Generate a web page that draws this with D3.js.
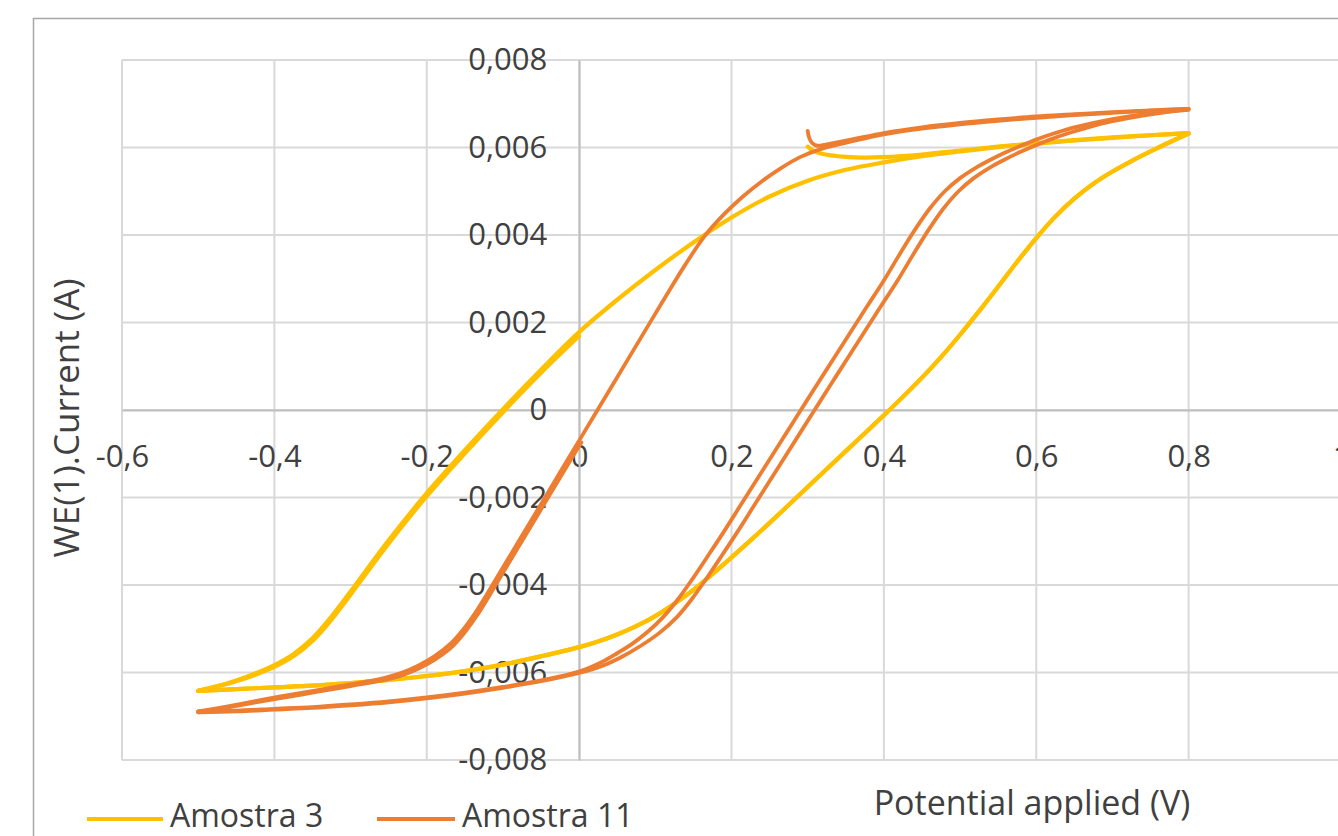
<!DOCTYPE html>
<html><head><meta charset="utf-8">
<script src="https://cdn.jsdelivr.net/npm/d3@7"></script>
<style>html,body{margin:0;padding:0;background:#fff;overflow:hidden}</style>
</head><body><svg id="c" width="1338" height="836"></svg>
<script>
const seriesNames = ["Amostra 3", "Amostra 11"];
const seriesColors = ["#FFC000", "#ED7D31"];
const xTicks = [-0.6, -0.4, -0.2, 0, 0.2, 0.4, 0.6, 0.8, 1.0];
const xTickLabels = ["-0,6", "-0,4", "-0,2", "0", "0,2", "0,4", "0,6", "0,8", "1"];
const yTicks = [-0.008, -0.006, -0.004, -0.002, 0, 0.002, 0.004, 0.006, 0.008];
const yTickLabels = ["-0,008", "-0,006", "-0,004", "-0,002", "0", "0,002", "0,004", "0,006", "0,008"];
const xTitle = "Potential applied (V)";
const yTitle = "WE(1).Current (A)";

// Amostra 3 branches [V, A]
const a3Start = [[0.300,0.00602],[0.308,0.00592],[0.320,0.00585],[0.340,0.00580],[0.370,0.00577],[0.400,0.00578],[0.450,0.00584],[0.500,0.00593],[0.550,0.00602],[0.600,0.00610],[0.650,0.00617],[0.700,0.00623],[0.750,0.00628],[0.800,0.00633]];
const a3Down = [[0.800,0.00632],[0.775,0.00612],[0.750,0.00591],[0.725,0.00569],[0.700,0.00545],[0.675,0.00517],[0.650,0.00483],[0.625,0.00442],[0.600,0.00393],[0.575,0.00339],[0.550,0.00282],[0.525,0.00226],[0.500,0.00172],[0.475,0.00121],[0.450,0.00074],[0.425,0.00030],[0.400,-0.00012],[0.375,-0.00053],[0.350,-0.00094],[0.325,-0.00135],[0.300,-0.00176],[0.275,-0.00217],[0.250,-0.00258],[0.225,-0.00298],[0.200,-0.00337],[0.175,-0.00375],[0.150,-0.00411],[0.125,-0.00443],[0.100,-0.00471],[0.075,-0.00494],[0.050,-0.00513],[0.025,-0.00529],[0.000,-0.00542],[-0.050,-0.00563],[-0.100,-0.00582],[-0.150,-0.00597],[-0.200,-0.00608],[-0.250,-0.00617],[-0.300,-0.00624],[-0.350,-0.00630],[-0.400,-0.00634],[-0.450,-0.00638],[-0.500,-0.00642]];
const a3Up = [[-0.500,-0.00642],[-0.475,-0.00631],[-0.450,-0.00618],[-0.425,-0.00602],[-0.400,-0.00583],[-0.375,-0.00558],[-0.350,-0.00522],[-0.325,-0.00472],[-0.300,-0.00415],[-0.250,-0.00298],[-0.200,-0.00190],[-0.150,-0.00092],[-0.100,0.00002],[-0.050,0.00092],[0.000,0.00178],[0.050,0.00252],[0.100,0.00320],[0.150,0.00383],[0.200,0.00440],[0.250,0.00488],[0.300,0.00524],[0.350,0.00549],[0.400,0.00566],[0.450,0.00580],[0.500,0.00591],[0.550,0.00601],[0.600,0.00609],[0.650,0.00616],[0.700,0.00622],[0.750,0.00628],[0.800,0.00633]];
const a3Up2 = [[-0.500,-0.00642],[-0.475,-0.00632],[-0.450,-0.00620],[-0.425,-0.00605],[-0.400,-0.00587],[-0.375,-0.00563],[-0.350,-0.00528],[-0.325,-0.00479],[-0.300,-0.00422],[-0.250,-0.00305],[-0.200,-0.00197],[-0.150,-0.00099],[-0.100,-0.00005],[-0.050,0.00085],[-0.020,0.00136],[0.000,0.00169]];

// Amostra 11 branches [V, A]
const a11Start = [[0.300,0.00638],[0.302,0.00622],[0.306,0.00610],[0.313,0.00604],[0.330,0.00609],[0.360,0.00619],[0.400,0.00633],[0.450,0.00646],[0.500,0.00656],[0.550,0.00664],[0.600,0.00671],[0.650,0.00676],[0.700,0.00681],[0.750,0.00685],[0.800,0.00688]];
const a11DownA = [[0.800,0.00686],[0.750,0.00678],[0.700,0.00665],[0.650,0.00646],[0.625,0.00633],[0.600,0.00618],[0.580,0.00604],[0.560,0.00589],[0.540,0.00572],[0.520,0.00553],[0.500,0.00530],[0.480,0.00500],[0.460,0.00460],[0.440,0.00410],[0.420,0.00354],[0.400,0.00296],[0.378,0.00237],[0.357,0.00180],[0.335,0.00120],[0.310,0.00052],[0.290,-0.00003],[0.270,-0.00058],[0.250,-0.00113],[0.230,-0.00168],[0.210,-0.00223],[0.190,-0.00278],[0.170,-0.00331],[0.150,-0.00383],[0.130,-0.00432],[0.110,-0.00474],[0.090,-0.00507],[0.070,-0.00534],[0.050,-0.00556],[0.030,-0.00576],[0.000,-0.00598],[-0.050,-0.00618],[-0.100,-0.00633],[-0.150,-0.00646],[-0.200,-0.00657],[-0.250,-0.00666],[-0.300,-0.00673],[-0.350,-0.00679],[-0.400,-0.00683],[-0.450,-0.00687],[-0.500,-0.00689]];
const a11Up = [[-0.500,-0.00689],[-0.470,-0.00680],[-0.430,-0.00667],[-0.390,-0.00654],[-0.343,-0.00640],[-0.300,-0.00627],[-0.255,-0.00612],[-0.232,-0.00600],[-0.212,-0.00585],[-0.190,-0.00563],[-0.168,-0.00533],[-0.150,-0.00497],[-0.133,-0.00455],[-0.100,-0.00360],[-0.070,-0.00273],[-0.040,-0.00186],[-0.010,-0.00099],[0.020,-0.00012],[0.050,0.00075],[0.080,0.00162],[0.110,0.00249],[0.140,0.00334],[0.165,0.00398],[0.190,0.00447],[0.215,0.00488],[0.240,0.00523],[0.265,0.00553],[0.290,0.00578],[0.320,0.00598],[0.360,0.00615],[0.400,0.00630],[0.450,0.00643],[0.500,0.00653],[0.550,0.00661],[0.600,0.00668],[0.650,0.00674],[0.700,0.00679],[0.750,0.00684],[0.800,0.00688]];
const a11DownB = [[0.800,0.00688],[0.750,0.00676],[0.700,0.00660],[0.668,0.00646],[0.643,0.00633],[0.618,0.00618],[0.598,0.00604],[0.578,0.00589],[0.558,0.00572],[0.538,0.00553],[0.518,0.00530],[0.498,0.00500],[0.478,0.00460],[0.458,0.00410],[0.438,0.00354],[0.418,0.00296],[0.396,0.00237],[0.375,0.00180],[0.353,0.00120],[0.328,0.00052],[0.308,-0.00003],[0.288,-0.00058],[0.268,-0.00113],[0.248,-0.00168],[0.228,-0.00223],[0.208,-0.00278],[0.188,-0.00331],[0.168,-0.00383],[0.148,-0.00432],[0.128,-0.00474],[0.105,-0.00510],[0.080,-0.00540],[0.055,-0.00565],[0.030,-0.00585],[0.000,-0.00601],[-0.050,-0.00620],[-0.100,-0.00635],[-0.150,-0.00648],[-0.200,-0.00659],[-0.250,-0.00668],[-0.300,-0.00675],[-0.350,-0.00681],[-0.400,-0.00685],[-0.450,-0.00689],[-0.500,-0.00691]];
const a11Up2 = [[-0.500,-0.00691],[-0.470,-0.00683],[-0.430,-0.00670],[-0.390,-0.00658],[-0.343,-0.00644],[-0.300,-0.00631],[-0.255,-0.00617],[-0.232,-0.00606],[-0.212,-0.00592],[-0.190,-0.00571],[-0.168,-0.00543],[-0.150,-0.00508],[-0.133,-0.00467],[-0.100,-0.00372],[-0.070,-0.00285],[-0.040,-0.00198],[-0.010,-0.00111],[0.003,-0.00074]];

const series = [
  {name: seriesNames[0], color: seriesColors[0], width: 4.2, branches: [a3Start, a3Down, a3Up, a3Down, a3Up2]},
  {name: seriesNames[1], color: seriesColors[1], width: 3.8, branches: [a11Start, a11DownA, a11Up, a11DownB, a11Up2]}
];

const FONT = "'Open Sans', 'Noto Sans', sans-serif";
const TXT = "#404040";
const svg = d3.select("#c");

const x = d3.scaleLinear().domain([-0.6, 1.0]).range([122, 1341]);
const y = d3.scaleLinear().domain([-0.008, 0.008]).range([760, 60]);

// chart frame
svg.append("rect").attr("x", 33.5).attr("y", 18.5).attr("width", 1400).attr("height", 900)
  .attr("fill", "#fff").attr("stroke", "#a6a6a6").attr("stroke-width", 1.5);

// gridlines
const grid = svg.append("g").attr("stroke", "#d9d9d9").attr("stroke-width", 2);
grid.selectAll("line.v").data(xTicks).join("line").attr("class", "v")
  .attr("x1", d => x(d)).attr("x2", d => x(d)).attr("y1", y(0.008)).attr("y2", y(-0.008));
grid.selectAll("line.h").data(yTicks).join("line").attr("class", "h")
  .attr("x1", x(-0.6)).attr("x2", x(1.0)).attr("y1", d => y(d)).attr("y2", d => y(d));

// axes
const xAxis = d3.axisBottom(x).tickValues(xTicks).tickFormat((d, i) => xTickLabels[i])
  .tickSize(0).tickSizeOuter(0).tickPadding(35);
const yAxis = d3.axisLeft(y).tickValues(yTicks).tickFormat((d, i) => yTickLabels[i])
  .tickSize(0).tickSizeOuter(0).tickPadding(32);

const gx = svg.append("g").attr("transform", `translate(0,${y(0)})`).call(xAxis);
const gy = svg.append("g").attr("transform", `translate(${x(0)},0)`).call(yAxis);
[gx, gy].forEach(g => {
  g.select(".domain").attr("stroke", "#bfbfbf").attr("stroke-width", 2);
  g.selectAll("text").attr("font-family", FONT).attr("font-size", 31).attr("fill", TXT);
});

// series
const line = d3.line().x(d => x(d[0])).y(d => y(d[1])).curve(d3.curveCatmullRom.alpha(0.5));
const gs = svg.append("g").attr("fill", "none").attr("stroke-linecap", "round").attr("stroke-linejoin", "round");
series.forEach(s => {
  gs.append("g").selectAll("path").data(s.branches).join("path")
    .attr("d", line).attr("stroke", s.color).attr("stroke-width", s.width);
});

// titles
svg.append("text").attr("x", 1032).attr("y", 815).attr("text-anchor", "middle")
  .attr("font-family", FONT).attr("font-size", 34).attr("fill", TXT).text(xTitle);
svg.append("text").attr("transform", "translate(79,418) rotate(-90)").attr("text-anchor", "middle")
  .attr("font-family", FONT).attr("font-size", 35).attr("fill", TXT).text(yTitle);

// legend
const legend = [{x0: 87, x1: 163, tx: 170}, {x0: 377, x1: 455, tx: 462}];
series.forEach((s, i) => {
  const L = legend[i];
  svg.append("line").attr("x1", L.x0).attr("x2", L.x1).attr("y1", 819).attr("y2", 819)
    .attr("stroke", s.color).attr("stroke-width", 4);
  svg.append("text").attr("x", L.tx).attr("y", 826.5).attr("font-family", FONT).attr("font-size", 32)
    .attr("fill", TXT).text(s.name);
});
</script></body></html>
